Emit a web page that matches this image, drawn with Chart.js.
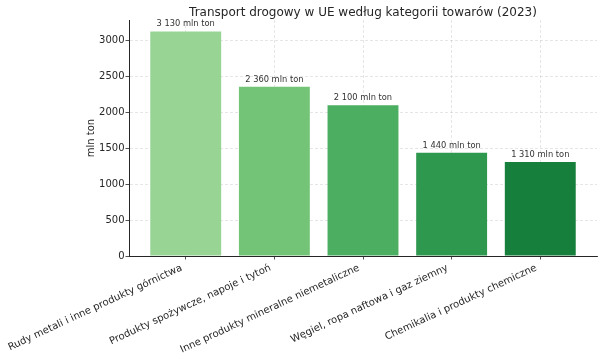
<!DOCTYPE html>
<html><head><meta charset="utf-8">
<script src="https://cdn.jsdelivr.net/npm/chart.js@4.4.1/dist/chart.umd.min.js"></script>
<style>html,body{margin:0;padding:0;background:#fff;}#wrap{width:602px;height:359px;}</style>
</head><body><div id="wrap"><canvas id="c" width="602" height="359"></canvas></div>
<script>
const categories = [
  "Rudy metali i inne produkty górnictwa",
  "Produkty spożywcze, napoje i tytoń",
  "Inne produkty mineralne niemetaliczne",
  "Węgiel, ropa naftowa i gaz ziemny",
  "Chemikalia i produkty chemiczne"
];
const values = [3130, 2360, 2100, 1440, 1310];
const barColors = ["#98d594", "#73c476", "#4bae61", "#2f984f", "#167f3c"];
const yTicks = [0, 500, 1000, 1500, 2000, 2500, 3000];
const titleText = "Transport drogowy w UE według kategorii towarów (2023)";
const yTitle = "mln ton";
const unit = "mln ton";

const FONT = "'DejaVu Sans', sans-serif";
function fmt(v){ return String(v).replace(/\B(?=(\d{3})+(?!\d))/g, " "); }

const labelPlugin = {
  id: 'barLabels',
  afterDatasetsDraw(chart){
    const ctx = chart.ctx;
    const meta = chart.getDatasetMeta(0);
    ctx.save();
    ctx.font = "8.3px " + FONT;
    ctx.fillStyle = "#333333";
    ctx.textAlign = "center";
    ctx.textBaseline = "bottom";
    meta.data.forEach((el, i) => {
      ctx.fillText(fmt(values[i]) + " " + unit, el.x, el.y - 3);
    });
    ctx.restore();
  }
};

new Chart(document.getElementById('c'), {
  type: 'bar',
  data: {
    datasets: [{
      data: values.map((v, i) => ({x: i, y: v})),
      backgroundColor: barColors,
      borderWidth: 0,
      barPercentage: 0.8,
      categoryPercentage: 1.0
    }]
  },
  options: {
    responsive: false,
    animation: false,
    devicePixelRatio: 1,
    layout: { padding: { left: 0, right: 5, top: 0, bottom: 0 } },
    plugins: {
      legend: { display: false },
      tooltip: { enabled: false },
      title: {
        display: true,
        fullSize: false,
        text: titleText,
        color: "#262626",
        font: { family: FONT, size: 12, weight: 'normal', lineHeight: 1.0 },
        padding: { top: 7, bottom: 1 }
      }
    },
    scales: {
      x: {
        type: 'linear',
        offset: false,
        min: -0.64,
        max: 4.64,
        z: 1,
        afterBuildTicks(scale){ scale.ticks = categories.map((c, i) => ({value: i})); },
        afterFit(scale){ scale.height = 103; scale.paddingLeft = 0; scale.paddingRight = 0; },
        ticks: {
          autoSkip: false,
          minRotation: 25,
          maxRotation: 25,
          padding: 2.5,
          labelOffset: -4,
          color: "#262626",
          font: { family: FONT, size: 10 },
          callback: (v) => categories[v]
        },
        grid: {
          display: true,
          offset: false,
          color: "rgba(150,150,150,0.3)",
          lineWidth: 0.8,
          drawTicks: true,
          tickLength: 3.5,
          tickColor: "#262626",
          tickBorderDash: [],
          tickWidth: 0.8
        },
        border: { display: true, color: "#262626", width: 1, dash: [3, 2] }
      },
      y: {
        type: 'linear',
        min: 0,
        max: 3290,
        z: 1,
        afterBuildTicks(scale){ scale.ticks = yTicks.map(v => ({value: v})); },
        afterFit(scale){ scale.width = 129; },
        ticks: {
          padding: 1,
          color: "#262626",
          font: { family: FONT, size: 10 },
          callback: (v) => String(v)
        },
        title: {
          display: true,
          text: yTitle,
          color: "#262626",
          font: { family: FONT, size: 10 },
          padding: { top: 85, bottom: 0 }
        },
        grid: {
          display: true,
          color: "rgba(150,150,150,0.3)",
          lineWidth: 0.8,
          drawTicks: true,
          tickLength: 3.5,
          tickColor: "#262626",
          tickBorderDash: [],
          tickWidth: 0.8
        },
        border: { display: true, color: "#262626", width: 1, dash: [3, 2] }
      }
    }
  },
  plugins: [labelPlugin]
});
</script>
</body></html>
